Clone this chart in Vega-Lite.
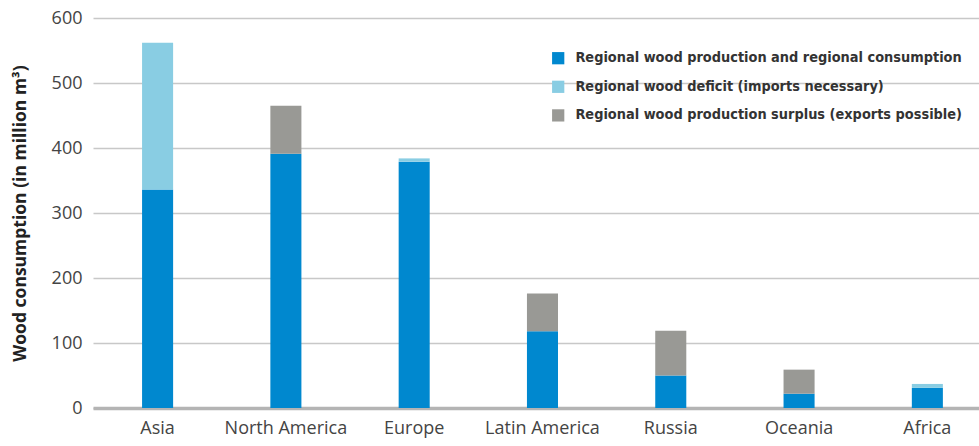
{
  "$schema": "https://vega.github.io/schema/vega-lite/v6.json",
  "autosize": {"type": "none"},
  "width": 886,
  "height": 390,
  "padding": {"left": 93, "top": 18, "right": 0, "bottom": 38},
  "background": "white",
  "data": {
    "values": [
      {"region": "Asia", "type": "Regional wood production and regional consumption", "ord": 1, "value": 336},
      {"region": "Asia", "type": "Regional wood deficit (imports necessary)", "ord": 2, "value": 226},
      {"region": "North America", "type": "Regional wood production and regional consumption", "ord": 1, "value": 391},
      {"region": "North America", "type": "Regional wood production surplus (exports possible)", "ord": 3, "value": 74},
      {"region": "Europe", "type": "Regional wood production and regional consumption", "ord": 1, "value": 379},
      {"region": "Europe", "type": "Regional wood deficit (imports necessary)", "ord": 2, "value": 5},
      {"region": "Latin America", "type": "Regional wood production and regional consumption", "ord": 1, "value": 118},
      {"region": "Latin America", "type": "Regional wood production surplus (exports possible)", "ord": 3, "value": 58},
      {"region": "Russia", "type": "Regional wood production and regional consumption", "ord": 1, "value": 50},
      {"region": "Russia", "type": "Regional wood production surplus (exports possible)", "ord": 3, "value": 69},
      {"region": "Oceania", "type": "Regional wood production and regional consumption", "ord": 1, "value": 22},
      {"region": "Oceania", "type": "Regional wood production surplus (exports possible)", "ord": 3, "value": 37},
      {"region": "Africa", "type": "Regional wood production and regional consumption", "ord": 1, "value": 31},
      {"region": "Africa", "type": "Regional wood deficit (imports necessary)", "ord": 2, "value": 6}
    ]
  },
  "mark": {"type": "bar"},
  "encoding": {
    "x": {
      "field": "region",
      "type": "nominal",
      "sort": ["Asia", "North America", "Europe", "Latin America", "Russia", "Oceania", "Africa"],
      "scale": {"paddingInner": 0.758, "paddingOuter": 0.332, "align": 0.576},
      "axis": {
        "title": null,
        "labelAngle": 0,
        "labelFont": "Open Sans",
        "labelFontSize": 18,
        "labelColor": "#444444",
        "labelPadding": 11,
        "ticks": false,
        "domainColor": "#b4b4b4",
        "domainWidth": 3.5,
        "grid": false
      }
    },
    "y": {
      "field": "value",
      "type": "quantitative",
      "stack": "zero",
      "scale": {"domain": [0, 600], "nice": false},
      "axis": {
        "title": "Wood consumption (in million m³)",
        "titleFont": "Open Sans",
        "titleFontSize": 17.5,
        "titleFontWeight": "bold",
        "titleColor": "#222222",
        "titlePadding": 22,
        "values": [0, 100, 200, 300, 400, 500, 600],
        "labelFont": "Open Sans",
        "labelFontSize": 18,
        "labelColor": "#444444",
        "labelPadding": 11,
        "ticks": false,
        "domain": false,
        "gridColor": "#c8c8c8",
        "gridWidth": 1.5
      }
    },
    "color": {
      "field": "type",
      "type": "nominal",
      "scale": {
        "domain": ["Regional wood production and regional consumption", "Regional wood deficit (imports necessary)", "Regional wood production surplus (exports possible)"],
        "range": ["#0088cf", "#89cde3", "#999995"]
      },
      "legend": {
        "title": null,
        "orient": "none",
        "legendX": 458,
        "legendY": 33,
        "padding": 0,
        "symbolType": "square",
        "symbolSize": 150,
        "symbolStrokeWidth": 0,
        "symbolOpacity": 1,
        "labelFont": "DejaVu Sans Condensed",
        "labelFontSize": 14.4,
        "labelFontWeight": "bold",
        "labelColor": "#333333",
        "labelOffset": 10,
        "labelLimit": 500,
        "rowPadding": 13.6
      }
    },
    "order": {"field": "ord", "type": "quantitative"}
  },
  "config": {"view": {"stroke": null}}
}
